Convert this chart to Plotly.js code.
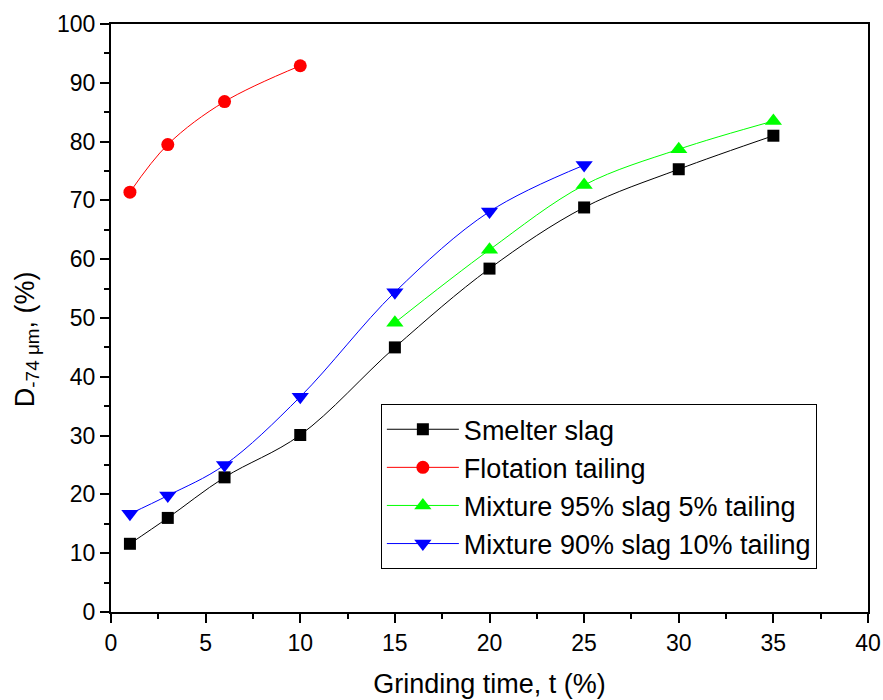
<!DOCTYPE html>
<html>
<head>
<meta charset="utf-8">
<script src="https://cdn.plot.ly/plotly-3.0.1.min.js"></script>
<style>html,body{margin:0;padding:0;background:#fff}#chart{width:883px;height:700px}</style>
</head>
<body>
<div id="chart"></div>
<script>
const seriesNames = ["Smelter slag", "Flotation tailing", "Mixture 95% slag 5% tailing", "Mixture 90% slag 10% tailing"];
const smelterX = [1, 3, 6, 10, 15, 20, 25, 30, 35];
const smelterY = [11.6, 16.0, 22.9, 30.1, 45.0, 58.4, 68.8, 75.3, 81.0];
const flotationX = [1, 3, 6, 10];
const flotationY = [71.4, 79.5, 86.8, 92.9];
const mix95X = [15, 20, 25, 30, 35];
const mix95Y = [49.2, 61.6, 72.6, 78.7, 83.5];
const mix90X = [1, 3, 6, 10, 15, 20, 25];
const mix90Y = [16.7, 19.8, 25.0, 36.6, 54.4, 68.1, 76.0];
const xTicks = [0, 5, 10, 15, 20, 25, 30, 35, 40];
const yTicks = [0, 10, 20, 30, 40, 50, 60, 70, 80, 90, 100];
const yTitle = 'D<sub>-74 μm</sub>, (%)';
const xTitle = 'Grinding time, t (%)';

const FONT = '"Liberation Sans", Arial, sans-serif';

function mk(name, x, y, color, symbol, size, group) {
  return {
    type: 'scatter', mode: 'lines+markers', name: name, x: x, y: y,
    legendgroup: group,
    line: {color: color, width: 1, shape: 'spline', smoothing: 1},
    marker: {color: color, symbol: symbol, size: size, line: {width: 0}}
  };
}
const data = [
  mk(seriesNames[0], smelterX, smelterY, '#000000', 'square', 12, 'a'),
  mk(seriesNames[1], flotationX, flotationY, '#ff0000', 'circle', 13, 'b'),
  mk(seriesNames[2], mix95X, mix95Y, '#00ff00', 'triangle-up', 15, 'c'),
  mk(seriesNames[3], mix90X, mix90Y, '#0000ff', 'triangle-down', 15, 'd')
];
const axisCommon = {
  showline: true, linecolor: '#000', linewidth: 2, mirror: true,
  ticks: 'outside', ticklen: 9, tickwidth: 2, tickcolor: '#000',
  showgrid: false, zeroline: false,
  tickfont: {family: FONT, size: 23, color: '#000'},
  minor: {ticks: 'outside', ticklen: 5, tickwidth: 2, tickcolor: '#000', showgrid: false}
};
const layout = {
  width: 883, height: 700,
  margin: {l: 111, r: 15, t: 24, b: 88},
  paper_bgcolor: '#fff', plot_bgcolor: '#fff',
  font: {family: FONT, color: '#000'},
  showlegend: true,
  legend: {
    x: 0.3565, y: 0.3534, xanchor: 'left', yanchor: 'top',
    bordercolor: '#000', borderwidth: 1, bgcolor: '#fff',
    font: {size: 27, color: '#000', family: FONT},
    tracegroupgap: 0, itemwidth: 72
  },
  xaxis: Object.assign({}, axisCommon, {
    range: [0, 40], tickvals: xTicks, ticktext: xTicks.map(String),
    minor: Object.assign({}, axisCommon.minor, {dtick: 2.5, tick0: 0}),
    title: {text: xTitle, font: {size: 27, family: FONT}, standoff: 20}
  }),
  yaxis: Object.assign({}, axisCommon, {
    range: [0, 100], tickvals: yTicks, ticktext: yTicks.map(String),
    minor: Object.assign({}, axisCommon.minor, {dtick: 5, tick0: 0})
  }),
  annotations: [{
    text: yTitle, xref: 'paper', yref: 'paper', x: 0, y: 0.464,
    xshift: -84, xanchor: 'center', yanchor: 'middle', textangle: -90,
    showarrow: false, font: {size: 27, family: FONT, color: '#000'}
  }]
};
Plotly.newPlot('chart', data, layout, {displayModeBar: false, staticPlot: true});
</script>
</body>
</html>
